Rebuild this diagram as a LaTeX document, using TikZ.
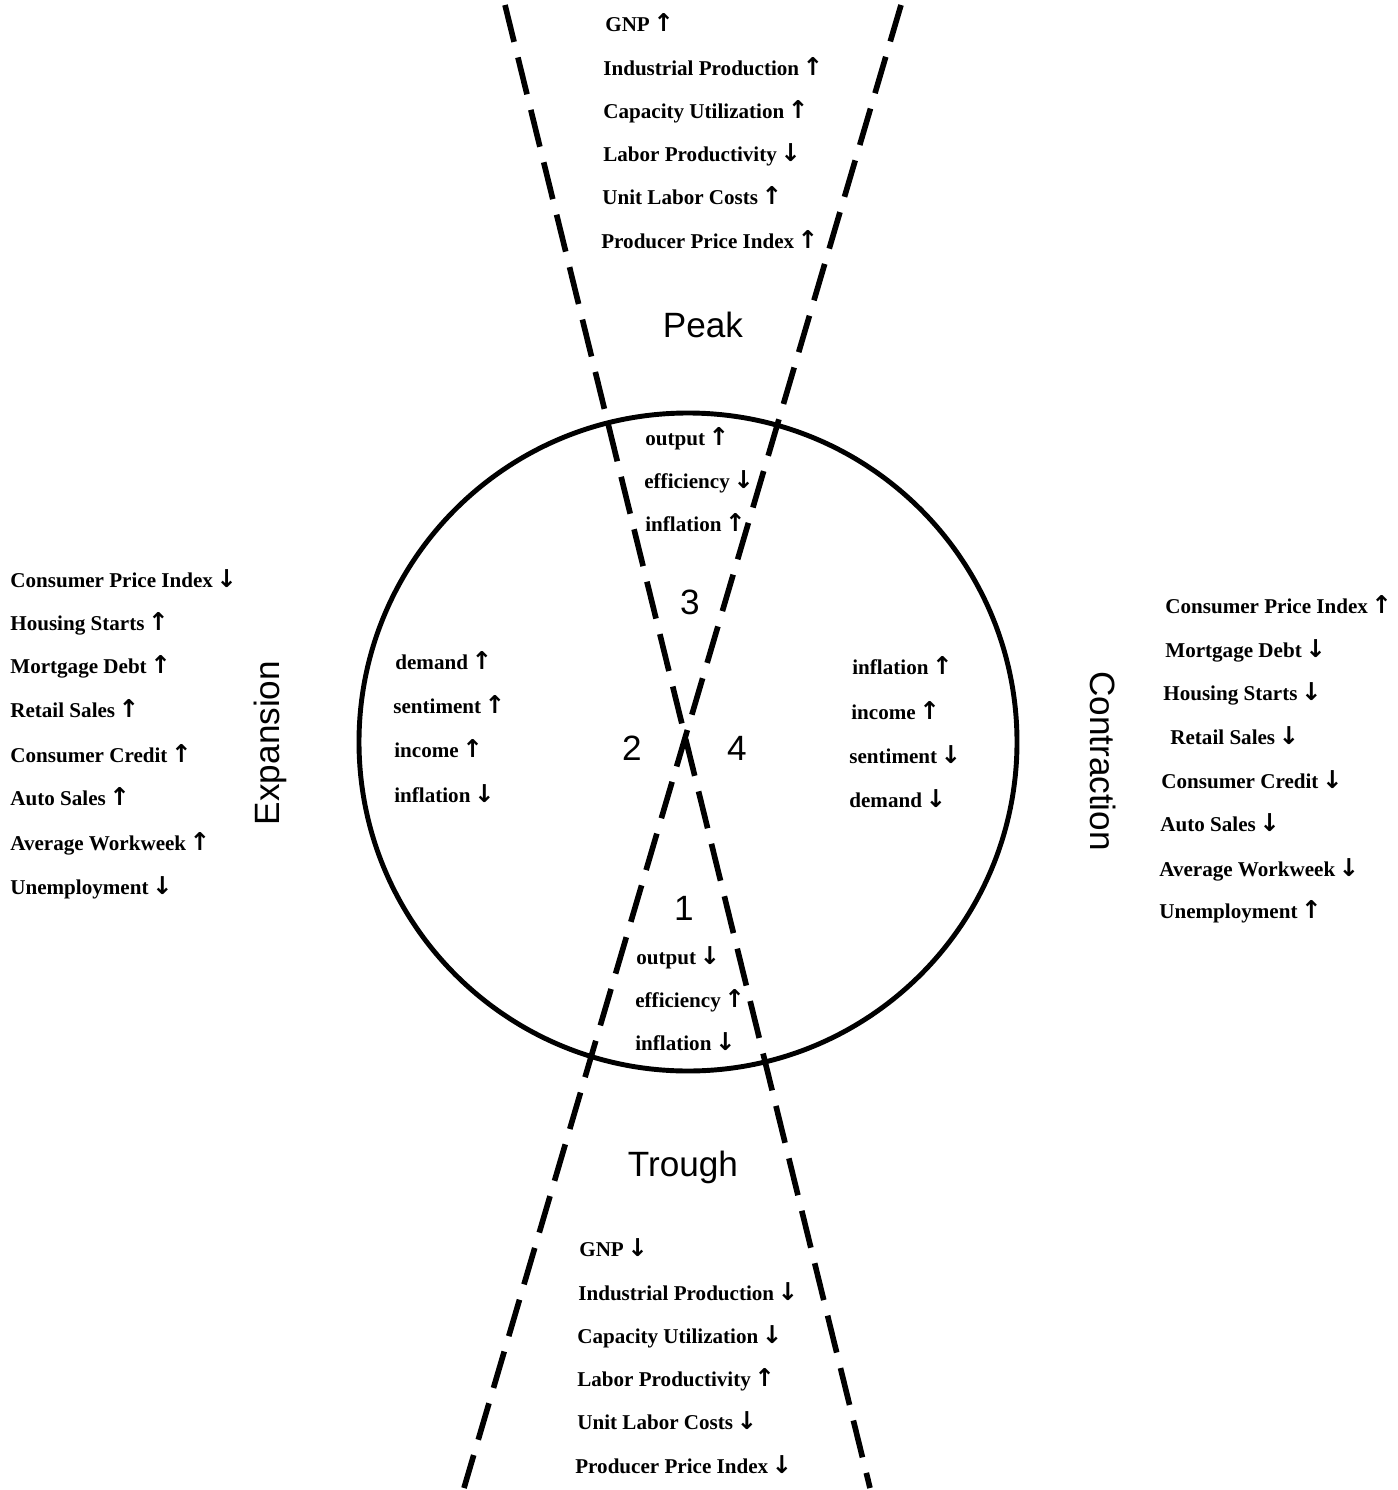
\documentclass[tikz,border=0pt]{standalone}
\usepackage{fontspec}
\setmainfont{Liberation Serif}
\newfontfamily\bigsans{Liberation Sans}
\newfontfamily\arrowfont{DejaVu Sans}
\newcommand{\upar}{\,{\arrowfont\bfseries\fontsize{14}{14}\selectfont ↑}}
\newcommand{\dnar}{\,{\arrowfont\bfseries\fontsize{14}{14}\selectfont ↓}}

\begin{document}
\begin{tikzpicture}[x=0.02cm,y=-0.02cm,
    lbl/.style={anchor=base west,inner sep=0pt,font=\fontsize{12}{14}\selectfont\bfseries},
    big/.style={inner sep=0pt,font=\fontsize{20}{24}\selectfont\bigsans},
    cut/.style={line width=3.2pt,dash pattern=on 0.76cm off 0.32cm}]
    \useasboundingbox (0,0) rectangle (1397,1490);
    % circle and the two dashed lines
    \coordinate (centre) at (688,742);
    \draw[line width=2.8pt] (centre) circle (329);
    \coordinate (atop) at (505,5);
    \coordinate (abot) at (870,1488);
    \coordinate (btop) at (901,5);
    \coordinate (bbot) at (464,1488);
    \draw[cut] (atop) -- (abot);
    \draw[cut] (btop) -- (bbot);
    % phase labels
    \node[big] (peak) at (703,325) {Peak};
    \node[big] (trough) at (683,1167) {Trough};
    \node[big,rotate=90] (expansion) at (270,743) {Expansion};
    \node[big,rotate=-90] (contraction) at (1103,761) {Contraction};
    \node[big] (n3) at (690,602) {3};
    \node[big] (n2) at (632,748) {2};
    \node[big] (n4) at (737,748) {4};
    \node[big] (n1) at (684,908) {1};
    % peak list
    \node[lbl] (pgnp) at (605,32) {GNP\upar};
    \node[lbl] (pind) at (603,76) {Industrial Production\upar};
    \node[lbl] (pcap) at (603,119) {Capacity Utilization\upar};
    \node[lbl] (plab) at (603,162) {Labor Productivity\dnar};
    \node[lbl] (punit) at (602,205) {Unit Labor Costs\upar};
    \node[lbl] (pppi) at (601,248) {Producer Price Index\upar};
    % trough list
    \node[lbl] (tgnp) at (579,1256) {GNP\dnar};
    \node[lbl] (tind) at (578,1300) {Industrial Production\dnar};
    \node[lbl] (tcap) at (577,1343) {Capacity Utilization\dnar};
    \node[lbl] (tlab) at (577,1386) {Labor Productivity\upar};
    \node[lbl] (tunit) at (577,1429) {Unit Labor Costs\dnar};
    \node[lbl] (tppi) at (575,1473) {Producer Price Index\dnar};
    % inside the circle, top and bottom
    \node[lbl] (p3out) at (645,445) {output\upar};
    \node[lbl] (p3eff) at (644,488) {efficiency\dnar};
    \node[lbl] (p3inf) at (645,531) {inflation\upar};
    \node[lbl] (p1out) at (636,964) {output\dnar};
    \node[lbl] (p1eff) at (635,1007) {efficiency\upar};
    \node[lbl] (p1inf) at (635,1050) {inflation\dnar};
    % inside the circle, left and right
    \node[lbl] (p2dem) at (395,669) {demand\upar};
    \node[lbl] (p2sen) at (393,713) {sentiment\upar};
    \node[lbl] (p2inc) at (394,757) {income\upar};
    \node[lbl] (p2inf) at (394,802) {inflation\dnar};
    \node[lbl] (p4inf) at (852,674) {inflation\upar};
    \node[lbl] (p4inc) at (851,719) {income\upar};
    \node[lbl] (p4sen) at (849,763) {sentiment\dnar};
    \node[lbl] (p4dem) at (849,807) {demand\dnar};
    % expansion list
    \node[lbl] (ecpi) at (10,587) {Consumer Price Index\dnar};
    \node[lbl] (ehous) at (10,630) {Housing Starts\upar};
    \node[lbl] (emort) at (10,673) {Mortgage Debt\upar};
    \node[lbl] (eret) at (10,717) {Retail Sales\upar};
    \node[lbl] (ecred) at (10,762) {Consumer Credit\upar};
    \node[lbl] (eauto) at (10,805) {Auto Sales\upar};
    \node[lbl] (ework) at (10,850) {Average Workweek\upar};
    \node[lbl] (eunem) at (10,894) {Unemployment\dnar};
    % contraction list
    \node[lbl] (ccpi) at (1165,613) {Consumer Price Index\upar};
    \node[lbl] (cmort) at (1165,657) {Mortgage Debt\dnar};
    \node[lbl] (chous) at (1163,700) {Housing Starts\dnar};
    \node[lbl] (cret) at (1170,744) {Retail Sales\dnar};
    \node[lbl] (ccred) at (1161,788) {Consumer Credit\dnar};
    \node[lbl] (cauto) at (1160,831) {Auto Sales\dnar};
    \node[lbl] (cwork) at (1159,876) {Average Workweek\dnar};
    \node[lbl] (cunem) at (1159,918) {Unemployment\upar};
\end{tikzpicture}
\end{document}
